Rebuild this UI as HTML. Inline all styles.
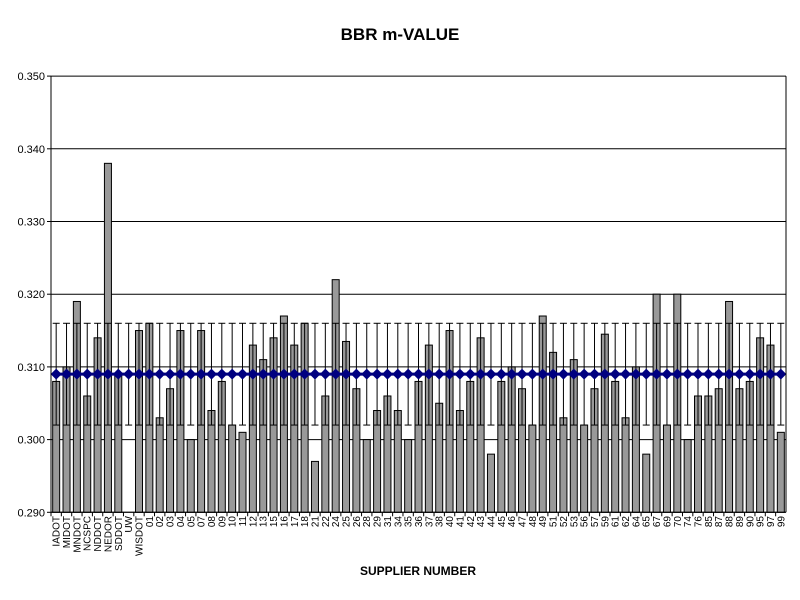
<!DOCTYPE html>
<html><head><meta charset="utf-8"><style>
html,body{margin:0;padding:0;background:#fff;}
svg{display:block;font-family:"Liberation Sans",Arial,sans-serif;}
</style></head><body>
<svg id="c" width="800" height="600" xmlns="http://www.w3.org/2000/svg">
<rect width="800" height="600" fill="#fff"/>
<text x="400" y="40" text-anchor="middle" font-size="17" font-weight="bold">BBR m-VALUE</text>
<text x="418" y="575" text-anchor="middle" font-size="12" font-weight="bold">SUPPLIER NUMBER</text>
<g id="grid"></g><g id="bars"></g><g id="err"></g><g id="mean"></g><g id="axes"></g><g id="lbl" font-size="10"></g>
</svg>
<script>
var L=51,R=786,Y0=512.3,S=7270;
function y(v){return Y0-(v-0.290)*S;}
var names=["IADOT","MIDOT","MNDOT","NCSPC","NDDOT","NEDOR","SDDOT","UW","WISDOT","01","02","03","04","05","07","08","09","10","11","12","13","15","16","17","18","21","22","24","25","26","28","29","31","34","35","36","37","38","40","41","42","43","44","45","46","47","48","49","51","52","53","56","57","59","61","62","64","65","67","69","70","74","76","85","87","88","89","90","95","97","99"];
var vals=[0.308,0.310,0.319,0.306,0.314,0.338,0.309,null,0.315,0.316,0.303,0.307,0.315,0.300,0.315,0.304,0.308,0.302,0.301,0.313,0.311,0.314,0.317,0.313,0.316,0.297,0.306,0.322,0.3135,0.307,0.300,0.304,0.306,0.304,0.300,0.308,0.313,0.305,0.315,0.304,0.308,0.314,0.298,0.308,0.310,0.307,0.302,0.317,0.312,0.303,0.311,0.302,0.307,0.3145,0.308,0.303,0.310,0.298,0.320,0.302,0.320,0.300,0.306,0.306,0.307,0.319,0.307,0.308,0.314,0.313,0.301];
var n=names.length,w=(R-L)/n,h="";
var g="";
for(var k=0;k<=6;k++){var v=0.290+k*0.01,yy=y(v);
 g+='<line x1="'+L+'" x2="'+R+'" y1="'+yy+'" y2="'+yy+'" stroke="#000" stroke-width="1"/>';
 g+='<line x1="'+(L-4)+'" x2="'+L+'" y1="'+yy+'" y2="'+yy+'" stroke="#000"/>';
 g+='<text x="'+(L-6)+'" y="'+(yy+4)+'" text-anchor="end" font-size="11">'+v.toFixed(3)+'</text>';}
document.getElementById('grid').innerHTML=g;
var b="",e="",m="",lb="";
for(var i=0;i<n;i++){var cx=L+w*(i+0.5);
 if(vals[i]!==null){var t=y(vals[i]);b+='<rect x="'+(cx-3.5)+'" y="'+t+'" width="7" height="'+(Y0-t)+'" fill="#999" stroke="#000" stroke-width="1"/>';}
 e+='<line x1="'+cx+'" x2="'+cx+'" y1="'+y(0.316)+'" y2="'+y(0.302)+'" stroke="#000"/>';
 e+='<line x1="'+(cx-3.5)+'" x2="'+(cx+3.5)+'" y1="'+y(0.316)+'" y2="'+y(0.316)+'" stroke="#000"/>';
 e+='<line x1="'+(cx-3.5)+'" x2="'+(cx+3.5)+'" y1="'+y(0.302)+'" y2="'+y(0.302)+'" stroke="#000"/>';
 var my=y(0.309);
 m+='<polygon points="'+cx+','+(my-5.5)+' '+(cx+5.5)+','+my+' '+cx+','+(my+5.5)+' '+(cx-5.5)+','+my+'" fill="#000080"/>';
 lb+='<text transform="translate('+(cx+3.5)+',516) rotate(-90)" text-anchor="end">'+names[i]+'</text>';
 e+='<line x1="'+(L+w*i)+'" x2="'+(L+w*i)+'" y1="'+Y0+'" y2="'+(Y0+4)+'" stroke="#000"/>';
}
m='<line x1="'+(L+w*0.5)+'" x2="'+(R-w*0.5)+'" y1="'+y(0.309)+'" y2="'+y(0.309)+'" stroke="#000080" stroke-width="3"/>'+m;
document.getElementById('bars').innerHTML=b;
document.getElementById('err').innerHTML=e;
document.getElementById('mean').innerHTML=m;
document.getElementById('lbl').innerHTML=lb;
document.getElementById('axes').innerHTML='<line x1="'+L+'" x2="'+L+'" y1="'+y(0.35)+'" y2="'+Y0+'" stroke="#000"/><line x1="'+R+'" x2="'+R+'" y1="'+y(0.35)+'" y2="'+Y0+'" stroke="#000"/><line x1="'+L+'" x2="'+R+'" y1="'+Y0+'" y2="'+Y0+'" stroke="#000"/>';
</script>
</body></html>
